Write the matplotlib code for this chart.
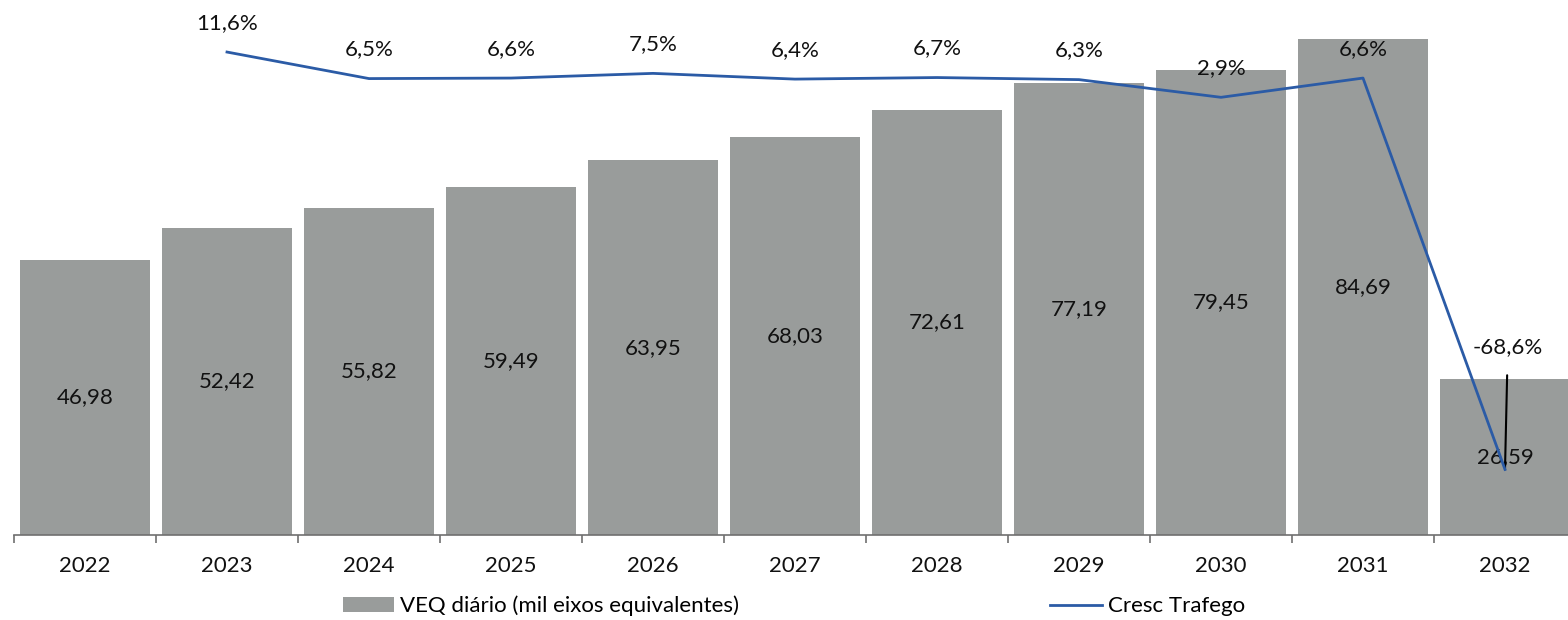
import numpy as np
import matplotlib.pyplot as plt
from matplotlib.patches import Patch
from matplotlib.lines import Line2D

plt.rcParams['font.family'] = ['Lato', 'DejaVu Sans']

years = ['2022', '2023', '2024', '2025', '2026', '2027', '2028', '2029', '2030', '2031', '2032']
veq = [46.98, 52.42, 55.82, 59.49, 63.95, 68.03, 72.61, 77.19, 79.45, 84.69, 26.59]
veq_labels = ['46,98', '52,42', '55,82', '59,49', '63,95', '68,03', '72,61', '77,19', '79,45', '84,69', '26,59']
growth_years = years[1:]
growth = [11.6, 6.5, 6.6, 7.5, 6.4, 6.7, 6.3, 2.9, 6.6, -68.6]
growth_labels = ['11,6%', '6,5%', '6,6%', '7,5%', '6,4%', '6,7%', '6,3%', '2,9%', '6,6%', '-68,6%']

bar_color = '#999c9b'
line_color = '#2b5ba6'
text_color = '#111111'
fs = 16

fig = plt.figure(figsize=(15.68, 6.2), dpi=100)
W, H = 1568, 620
ax = fig.add_axes([14 / W, (H - 535) / H, (W - 14) / W, 535 / H])
ax2 = ax.twinx()

x = np.arange(len(years))
ax.bar(x, veq, width=0.91, color=bar_color, zorder=2)
for xi, v, lab in zip(x, veq, veq_labels):
    ax.text(xi, v / 2, lab, ha='center', va='center', fontsize=fs, color=text_color, zorder=5)

ax.set_yticks([])
for s in ['left', 'right', 'top']:
    ax.spines[s].set_visible(False)
ax.spines['bottom'].set_color('#6f6f6f')
ax.spines['bottom'].set_linewidth(1.2)
ax.set_xticks(np.arange(-0.5, 11, 1))
ax.set_xticklabels([])
ax.tick_params(axis='x', which='major', length=6, color='#6f6f6f', width=1.2)
ax.set_xticks(x, minor=True)
ax.set_xticklabels(years, minor=True, fontsize=fs, color=text_color)
ax.tick_params(axis='x', which='minor', length=0, pad=15)
ax.set_xlim(-0.5, 10.5 - 8 / 142)
ax.set_ylim(0, 535 / 5.857)

gx = x[1:]
ax2.plot(gx, growth, color=line_color, linewidth=2, zorder=4)
ax2.set_ylim(-81.2, 21.6)
ax2.set_yticks([])
for s in ax2.spines.values():
    s.set_visible(False)
for xi, g, lab in zip(gx[:-1], growth[:-1], growth_labels[:-1]):
    ax2.annotate(lab, (xi, g), xytext=(0, 21), textcoords='offset points',
                 ha='center', va='center', fontsize=fs, color=text_color)
ax2.annotate(growth_labels[-1], (gx[-1], growth[-1]), xytext=(2, 88), textcoords='offset points',
             ha='center', va='center', fontsize=fs, color=text_color,
             arrowprops=dict(arrowstyle='-', color='black', lw=1.5, shrinkA=11, shrinkB=0))

handles = [Patch(facecolor=bar_color, edgecolor='none'),
           Line2D([], [], color=line_color, linewidth=2)]
fig.legend(handles, ['VEQ diário (mil eixos equivalentes)', 'Cresc Trafego'],
           loc='center', bbox_to_anchor=(794 / W, (H - 606) / H), ncol=2, frameon=False,
           fontsize=fs, handlelength=2.3, handleheight=0.7, columnspacing=14, handletextpad=0.3)

fig.savefig('out.png', dpi=100)
